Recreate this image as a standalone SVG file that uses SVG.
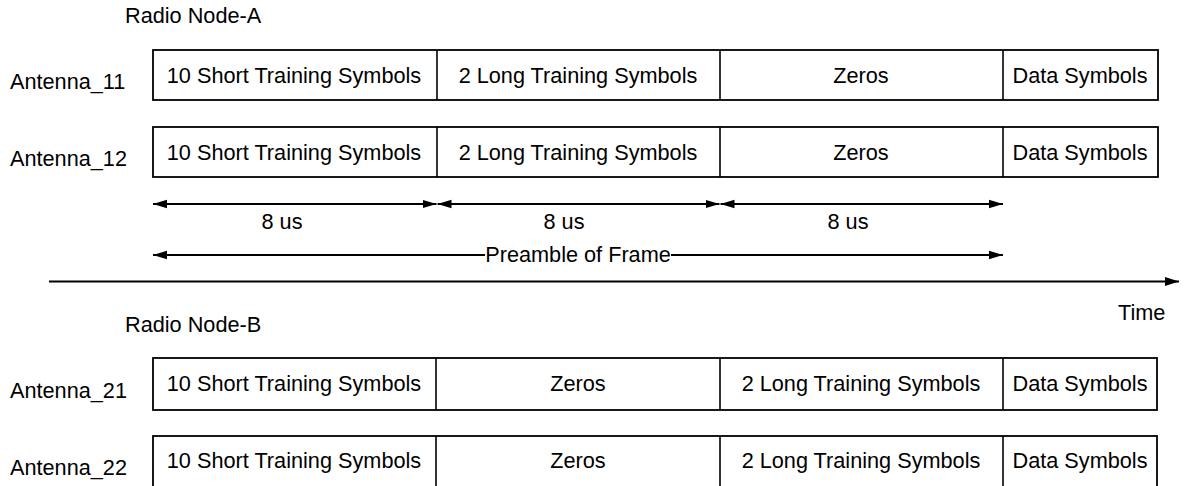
<svg xmlns="http://www.w3.org/2000/svg" width="1185" height="486" viewBox="0 0 1185 486">
<style>
text{font-family:"Liberation Sans",Arial,sans-serif;font-size:21.7px;fill:#000}
.c{text-anchor:middle}
.box{fill:#fff;stroke:#000;stroke-width:1.8}
.div{stroke:#000;stroke-width:1.6}
.arr{stroke:#000;stroke-width:2;fill:none}
.axis{stroke:#000;stroke-width:2.2;fill:none}
</style>
<defs>
<marker id="ah" markerUnits="userSpaceOnUse" markerWidth="16" markerHeight="10" refX="14" refY="5" orient="auto-start-reverse">
<path d="M0,0.8 L14,5 L0,9.2 Z" fill="#000"/>
</marker>
<marker id="ah2" markerUnits="userSpaceOnUse" markerWidth="16" markerHeight="12" refX="14" refY="6" orient="auto">
<path d="M0,1.4 L14,6 L0,10.6 Z" fill="#000"/>
</marker>
</defs>
<rect width="1185" height="486" fill="#fff"/>
<text x="125" y="23">Radio Node-A</text>
<text x="125" y="332">Radio Node-B</text>
<g id="row11">
<text x="10" y="89">Antenna_11</text>
<rect class="box" x="153" y="50" width="1005" height="50"/>
<line class="div" x1="437" y1="50" x2="437" y2="100"/>
<line class="div" x1="720" y1="50" x2="720" y2="100"/>
<line class="div" x1="1003" y1="50" x2="1003" y2="100"/>
<text class="c" x="294" y="82.5">10 Short Training Symbols</text>
<text class="c" x="578" y="82.5">2 Long Training Symbols</text>
<text class="c" x="861" y="82.5">Zeros</text>
<text class="c" x="1080" y="82.5">Data Symbols</text>
</g>
<g id="row12">
<text x="10" y="166">Antenna_12</text>
<rect class="box" x="153" y="127" width="1005" height="50"/>
<line class="div" x1="437" y1="127" x2="437" y2="177"/>
<line class="div" x1="720" y1="127" x2="720" y2="177"/>
<line class="div" x1="1003" y1="127" x2="1003" y2="177"/>
<text class="c" x="294" y="159.5">10 Short Training Symbols</text>
<text class="c" x="578" y="159.5">2 Long Training Symbols</text>
<text class="c" x="861" y="159.5">Zeros</text>
<text class="c" x="1080" y="159.5">Data Symbols</text>
</g>
<g id="row21">
<text x="10" y="398">Antenna_21</text>
<rect class="box" x="153" y="358" width="1004" height="52"/>
<line class="div" x1="436" y1="358" x2="436" y2="410"/>
<line class="div" x1="720" y1="358" x2="720" y2="410"/>
<line class="div" x1="1003" y1="358" x2="1003" y2="410"/>
<text class="c" x="294" y="391">10 Short Training Symbols</text>
<text class="c" x="578" y="391">Zeros</text>
<text class="c" x="861" y="391">2 Long Training Symbols</text>
<text class="c" x="1080" y="391">Data Symbols</text>
</g>
<g id="row22">
<text x="10" y="475">Antenna_22</text>
<rect class="box" x="153" y="436" width="1004" height="54"/>
<line class="div" x1="436" y1="436" x2="436" y2="490"/>
<line class="div" x1="720" y1="436" x2="720" y2="490"/>
<line class="div" x1="1003" y1="436" x2="1003" y2="490"/>
<text class="c" x="294" y="468">10 Short Training Symbols</text>
<text class="c" x="578" y="468">Zeros</text>
<text class="c" x="861" y="468">2 Long Training Symbols</text>
<text class="c" x="1080" y="468">Data Symbols</text>
</g>
<g id="connectors">
<line class="arr" x1="153" y1="204" x2="436.5" y2="204" marker-start="url(#ah)" marker-end="url(#ah)"/>
<line class="arr" x1="437.5" y1="204" x2="719.5" y2="204" marker-start="url(#ah)" marker-end="url(#ah)"/>
<line class="arr" x1="720.5" y1="204" x2="1003" y2="204" marker-start="url(#ah)" marker-end="url(#ah)"/>
<line class="arr" x1="153" y1="255" x2="485" y2="255" marker-start="url(#ah)"/>
<line class="arr" x1="671" y1="255" x2="1003" y2="255" marker-end="url(#ah)"/>
<line class="axis" x1="49" y1="281.5" x2="1179" y2="281.5" marker-end="url(#ah2)"/>
</g>
<text class="c" x="282" y="229">8 us</text>
<text class="c" x="564" y="229">8 us</text>
<text class="c" x="848" y="229">8 us</text>
<text class="c" x="578" y="262">Preamble of Frame</text>
<text x="1118" y="320">Time</text>
</svg>
